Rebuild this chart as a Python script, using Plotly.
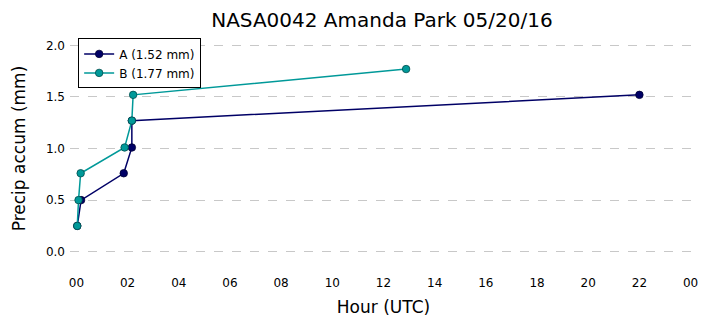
import plotly.graph_objects as go

# Tipping-bucket accumulation for two gauges at site NASA0042, 2016-05-20
a_times = ["2016-05-20 00:02", "2016-05-20 00:11", "2016-05-20 01:51",
           "2016-05-20 02:10", "2016-05-20 02:10", "2016-05-20 22:00"]
a_accum = [0.25, 0.50, 0.76, 1.01, 1.27, 1.52]

b_times = ["2016-05-20 00:02", "2016-05-20 00:05", "2016-05-20 00:10",
           "2016-05-20 01:53", "2016-05-20 02:10", "2016-05-20 02:13",
           "2016-05-20 12:53"]
b_accum = [0.25, 0.50, 0.76, 1.01, 1.27, 1.52, 1.77]

y_ticks = [0.0, 0.5, 1.0, 1.5, 2.0]

FONT = "DejaVu Sans"

fig = go.Figure()
fig.add_trace(go.Scatter(
    x=a_times, y=a_accum, mode="lines+markers",
    name=f"A ({a_accum[-1]:.2f} mm)",
    line=dict(color="#000066", width=1.5),
    marker=dict(size=7.5, color="#000066", line=dict(color="#000033", width=0.8)),
))
fig.add_trace(go.Scatter(
    x=b_times, y=b_accum, mode="lines+markers",
    name=f"B ({b_accum[-1]:.2f} mm)",
    line=dict(color="#009999", width=1.5),
    marker=dict(size=7.5, color="#009999", line=dict(color="#004d4d", width=0.8)),
))

fig.update_layout(
    width=706, height=326,
    margin=dict(l=70, r=9, t=35, b=64),
    paper_bgcolor="white", plot_bgcolor="white",
    font=dict(family=FONT, size=12, color="black"),
    title=dict(text="NASA0042 Amanda Park 05/20/16", x=0.541, xanchor="center",
               y=0.94, yanchor="middle", font=dict(size=20)),
    showlegend=True,
    legend=dict(x=0.013, y=0.985, xanchor="left", yanchor="top",
                bgcolor="white", bordercolor="black", borderwidth=1,
                font=dict(size=12), tracegroupgap=0, itemwidth=30),
)
fig.update_xaxes(
    type="date", range=["2016-05-19 23:45", "2016-05-21 00:15"],
    tick0="2016-05-20 00:00", dtick=2 * 3600 * 1000, tickformat="%H",
    showgrid=False, zeroline=False, showline=False, ticks="",
    tickfont=dict(size=12), ticklabelstandoff=12,
    title=dict(text="Hour (UTC)", font=dict(size=17), standoff=12),
)
fig.update_yaxes(
    range=[-0.1, 2.1], tickvals=y_ticks,
    ticktext=[f"{v:.1f}" for v in y_ticks],
    showgrid=True, gridcolor="#c8c8c8", griddash="dash", gridwidth=1,
    zeroline=False, showline=False, ticks="",
    tickfont=dict(size=12), ticklabelstandoff=4,
    title=dict(text="Precip accum (mm)", font=dict(size=17), standoff=15),
)

fig.write_html("out.html")
